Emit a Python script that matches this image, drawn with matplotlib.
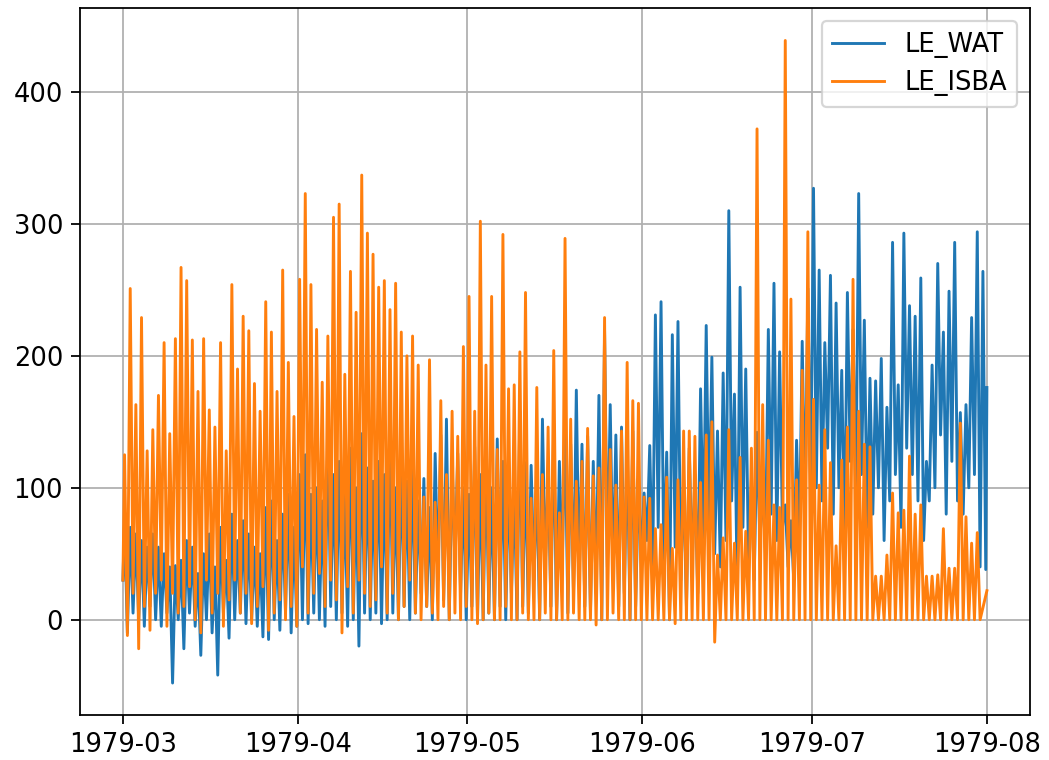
import numpy as np
import pandas as pd
import matplotlib
matplotlib.use("Agg")
import matplotlib.pyplot as plt

# valeurs journalieres (1979-03-01 -> 1979-07-31)
# pic diurne et creux nocturne de chaque serie
wat_pic = [75, 70, 65, 60, 55, 65, 55, 50, 40, 41, 45, 60, 55, 35, 50, 65, 40, 70, 45, 80,
           60, 75, 65, 55, 50, 85, 90, 60, 80, 95, 70,
           110, 125, 95, 100, 90, 144, 110, 120, 95, 130, 100, 141, 115, 105, 120, 110, 144, 100, 122,
           105, 119, 90, 107, 85, 126, 140, 152, 120, 126, 100,
           95, 131, 110, 126, 100, 137, 120, 110, 100, 158, 119, 117, 105, 152, 110, 148, 120, 148, 133,
           174, 133, 139, 120, 170, 219, 163, 140, 146, 136, 143, 99,
           96, 132, 231, 241, 127, 216, 226, 106, 130, 110, 175, 223, 199, 143, 187, 310, 171, 252, 190,
           106, 142, 99, 220, 255, 203, 87, 75, 136, 211, 251,
           327, 265, 210, 261, 240, 189, 248, 220, 323, 227, 183, 181, 198, 161, 286, 178, 293, 238, 230,
           259, 120, 193, 270, 218, 249, 286, 157, 163, 229, 294, 264]
wat_creux = [-10, 5, 0, -5, 10, 0, -5, 5, -48, 0, -22, 5, -5, -27, 0, -10, -42, 5, -14, 0,
             5, -3, 0, -5, -13, -15, 0, -8, 5, -10, -5,
             0, -3, 5, 0, -5, 10, 0, 5, -5, 0, -20, 5, 0, 5, -3, 0, 5, 0, 10,
             0, 5, 20, 10, 0, 30, 15, 0, 40, 20, 0,
             10, 0, 0, 5, 0, 10, 0, 20, 0, 10, 5, 30, 0, 40, 10, 0, 40, 5, 20,
             30, 10, 5, 20, 0, 40, 30, 10, 20, 0, 10, 50,
             60, 30, 70, 40, 0, 55, 30, 10, 40, 20, 60, 70, 50, 40, 60, 90, 20, 70, 40,
             30, 60, 50, 80, 60, 70, 40, 30, 60, 80, 90,
             100, 90, 130, 80, 100, 60, 120, 90, 110, 70, 80, 100, 60, 90, 110, 70, 130, 110, 90,
             60, 90, 100, 140, 80, 120, 90, 80, 100, 110, 40, 38]
isba_pic = [125, 251, 163, 229, 128, 144, 170, 210, 141, 213, 267, 257, 212, 173, 213, 159, 146, 210, 128, 254,
            190, 230, 219, 179, 158, 241, 218, 173, 265, 195, 154,
            258, 323, 254, 220, 180, 215, 305, 315, 186, 264, 233, 337, 293, 277, 252, 257, 235, 255, 218,
            200, 215, 193, 93, 197, 89, 166, 110, 158, 139, 207,
            245, 158, 302, 193, 245, 129, 292, 175, 178, 203, 248, 92, 176, 110, 146, 204, 81, 289, 152,
            105, 120, 145, 109, 115, 229, 129, 102, 143, 195, 166, 164,
            93, 92, 69, 72, 108, 54, 106, 143, 143, 139, 104, 140, 150, 49, 62, 144, 58, 123, 67,
            130, 372, 163, 136, 87, 85, 439, 243, 106, 189, 294,
            167, 102, 144, 119, 56, 121, 146, 258, 158, 133, 131, 33, 33, 49, 96, 81, 83, 124, 80,
            87, 33, 33, 34, 69, 39, 39, 149, 78, 58, 66, 22]
isba_creux = [-12, 20, -22, 10, -8, 20, 30, -5, 20, 5, 10, 25, 0, -10, 30, 5, 20, -5, 15, 30,
              5, 20, -3, 10, 25, -8, 5, 15, 0, 10, -5,
              40, 5, 20, 35, 10, 30, 15, -10, 25, 5, 30, 20, 10, 15, 40, 5, 20, 0, 10,
              30, 5, 0, 10, 5, 0, 10, 0, 5, 0, 10,
              0, -3, 0, 5, 0, 0, 10, 0, 0, 5, 0, 0, 0, 5, 0, 0, 0, 0, 5,
              0, 0, 0, -4, 0, 0, 5, 0, 0, 0, 0, 0,
              0, 0, 0, 0, 0, -3, 0, 0, 0, 0, 0, 0, -17, 0, 0, 0, 0, 0, 0,
              0, 0, 0, 0, 0, 0, 0, 0, 0, 0, 0,
              0, 0, 0, 0, 0, 0, 0, 0, 0, 0, 0, 0, 0, 0, 0, 0, 0, 0, 0,
              0, 0, 0, 0, 0, 0, 0, 0, 0, 0, 0]
debut = [30, 30]     # valeurs au 1979-03-01 00h (WAT, ISBA)
fin = [176, 22]      # valeurs au 1979-08-01 00h

jours = pd.date_range("1979-03-01", periods=len(wat_pic), freq="D")

def serie(pics, creux, v0, v1):
    t = [jours[0]]
    v = [v0]
    for j, p, c in zip(jours, pics, creux):
        t += [j + pd.Timedelta(hours=7), j + pd.Timedelta(hours=19)]
        v += [p, c]
    t.append(jours[-1] + pd.Timedelta(days=1))
    v.append(v1)
    return t, v

t_wat, le_wat = serie(wat_pic, wat_creux, debut[0], fin[0])
t_isba, le_isba = serie(isba_pic, isba_creux, debut[1], fin[1])

plt.rcParams["font.size"] = 11.6
plt.rcParams["xtick.major.size"] = 4
plt.rcParams["ytick.major.size"] = 4

fig, ax = plt.subplots(figsize=(1049/160, 760/160), dpi=160)
fig.subplots_adjust(left=0.076, right=0.982, top=0.989, bottom=0.059)
ax.plot(t_wat, le_wat, label="LE_WAT", lw=1.3)
ax.plot(t_isba, le_isba, label="LE_ISBA", lw=1.3)
ax.grid(True)
ax.legend(loc="upper right")

plt.savefig("out.png")
